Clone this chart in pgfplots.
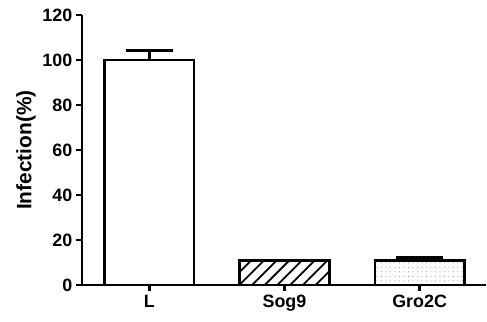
\documentclass[border=0pt]{standalone}
\usepackage{fontspec}
\setmainfont{Liberation Sans}
\usepackage{pgfplots}
\pgfplotsset{compat=1.18}
\usetikzlibrary{patterns.meta}
\begin{document}
\begin{tikzpicture}
\begin{axis}[
  scale only axis, width=405bp, height=271bp,
  at={(0,0)}, anchor=south west,
  xmin=-0.5, xmax=2.49, ymin=0, ymax=120,
  axis x line*=bottom, axis y line*=left,
  axis line style={line width=2.4bp, -},
  xtick={0,1,2}, xticklabels={L,Sog9,Gro2C},
  ytick={0,20,...,120},
  tick align=outside, major tick length=6bp,
  every tick/.style={line width=2.4bp, black},
  tick label style={font=\fontsize{18}{21}\selectfont\bfseries},
  /pgf/number format/assume math mode=true,
  ylabel={Infection(\%)},
  ylabel style={font=\fontsize{21}{25}\selectfont\bfseries},
  ybar, bar width=90bp, bar shift=0pt,
]
\addplot[draw=black, line width=2.4bp, fill=white,
  error bars/.cd, y dir=plus, y explicit,
  error bar style={line width=2.4bp},
  error mark options={rotate=90, mark size=23.5bp, line width=2.4bp}]
  coordinates {(0,100) +- (0,4.2)};
\addplot[draw=black, line width=2.4bp,
  pattern={Lines[angle=45, distance=9bp, line width=1.8bp]}]
  coordinates {(1,11)};
\addplot[draw=black, line width=2.4bp, fill=white,
  postaction={pattern={Dots[distance=4.5bp, radius=0.45bp]}, pattern color=gray},
  error bars/.cd, y dir=plus, y explicit,
  error bar style={line width=2.4bp},
  error mark options={rotate=90, mark size=23.5bp, line width=2.4bp}]
  coordinates {(2,11) +- (0,1.3)};
\end{axis}
\path[use as bounding box] (-82bp,-36bp) rectangle (405bp,286bp);
\end{tikzpicture}
\end{document}
